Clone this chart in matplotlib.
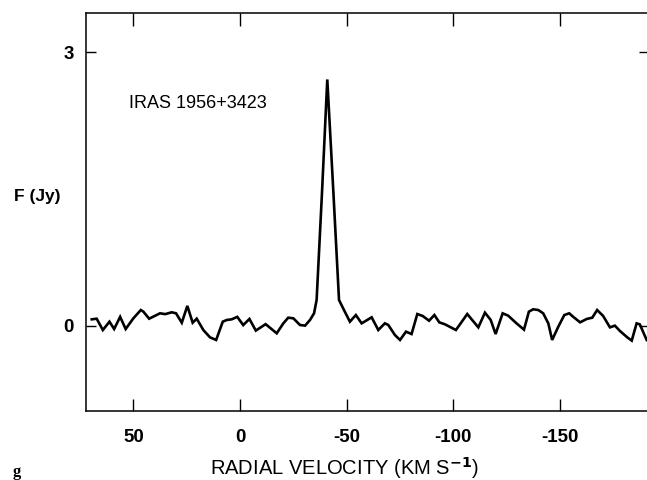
import matplotlib
matplotlib.use("Agg")
import matplotlib.pyplot as plt

velocity = [69.5, 67.2, 64.3, 61.2, 59.0, 56.2, 53.6, 50.0, 46.5, 45.3, 42.6, 37.5, 35.1, 32.0,
            30.0, 27.3, 24.7, 22.2, 20.3, 17.2, 14.1, 11.2, 8.1, 6.2, 3.9, 1.3, -1.5, -4.4,
            -7.4, -12.0, -17.2, -20.3, -22.6, -25.0, -28.1, -30.5, -32.8, -34.7, -35.9,
            -38.4, -40.9, -43.7, -46.4, -48.4, -51.5, -54.3, -57.0, -61.7, -64.8,
            -67.9, -69.5, -72.6, -75.0, -77.8, -80.4, -83.1, -85.6, -88.6, -91.1, -93.4,
            -96.1, -101.2, -106.5, -111.7, -114.8, -117.5, -119.8, -123.1, -125.7, -129.6,
            -133.1, -135.4, -137.4, -139.8, -142.1, -144.5, -146.3, -149.2, -152.0, -154.3,
            -156.2, -159.4, -162.5, -165.1, -167.4, -170.2, -173.4, -175.7, -178.1, -181.5,
            -183.6, -185.9, -187.4, -190.6]
flux = [0.073, 0.08, -0.044, 0.047, -0.033, 0.10, -0.033, 0.084, 0.175, 0.157, 0.08, 0.139,
        0.13, 0.15, 0.139, 0.036, 0.22, 0.036, 0.08, -0.044, -0.124, -0.153, 0.047, 0.066,
        0.073, 0.10, 0.01, 0.077, -0.05, 0.02, -0.08, 0.029, 0.091, 0.084, 0.011, 0.004,
        0.066, 0.139, 0.285, 1.45, 2.70, 1.49, 0.285, 0.19, 0.047, 0.12, 0.029, 0.095,
        -0.044, 0.029, 0.011, -0.099, -0.153, -0.062, -0.088, 0.131, 0.11, 0.058, 0.12,
        0.04, 0.018, -0.044, 0.131, -0.015, 0.146, 0.066, -0.088, 0.139, 0.113, 0.029,
        -0.04, 0.157, 0.183, 0.175, 0.139, 0.029, -0.153, -0.007, 0.12, 0.139, 0.10, 0.04,
        0.077, 0.091, 0.175, 0.11, -0.015, 0.004, -0.055, -0.124, -0.16, 0.029, 0.018, -0.153]

xticks = [50, 0, -50, -100, -150]
xticklabels = ["50", "0", "-50", "-100", "-150"]
yticks = [0, 3]
yticklabels = ["0", "3"]
source_label = "IRAS 1956+3423"

plt.rcParams['font.family'] = ['Liberation Sans', 'DejaVu Sans']

fig = plt.figure(figsize=(6.47, 4.8), dpi=100)
ax = fig.add_axes([86/647, 1 - 411/480, (649 - 86)/647, (411 - 13)/480])
ax.plot(velocity, flux, color='black', lw=1.9, solid_joinstyle='miter')
ax.set_xlim(72.2, -191.7)
ax.set_ylim(-0.931, 3.428)

ax.set_xticks(xticks)
ax.set_xticklabels(xticklabels, fontsize=13.5, fontweight='bold')
ax.set_yticks(yticks)
ax.set_yticklabels(yticklabels, fontsize=13.5, fontweight='bold')
ax.tick_params(axis='x', direction='in', length=9, width=1.0, top=True, pad=13)
ax.tick_params(axis='y', direction='in', length=7, width=1.0, right=True, pad=9)
for s in ax.spines.values():
    s.set_linewidth(1.1)

ax.text(129/647, 1 - 103/480, source_label, transform=fig.transFigure, fontsize=13,
        ha='left', va='center')
fig.text(14/647, 1 - 197/480, "F (Jy)", fontsize=12.5, fontweight='bold', ha='left', va='center')
fig.text(345/647, 1 - 468/480, r"RADIAL VELOCITY (KM S$^{\mathbf{-1}}$)", fontsize=14.5,
         ha='center', va='center')
fig.text(17/647, 1 - 472/480, "g", fontsize=12, fontweight='bold', family='Liberation Serif',
         ha='center', va='center')

fig.savefig("out.png", dpi=100)
